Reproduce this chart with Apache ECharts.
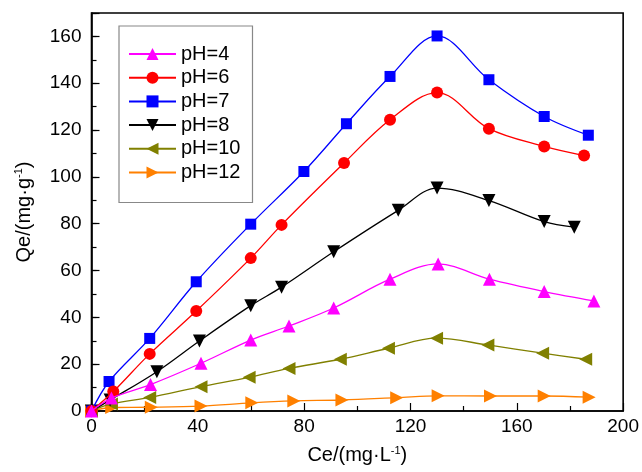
<!DOCTYPE html>
<html>
<head>
<meta charset="utf-8">
<title>Qe vs Ce at different pH</title>
<script src="https://cdn.jsdelivr.net/npm/echarts@6/dist/echarts.min.js"></script>
<style>
  html, body { margin: 0; padding: 0; background: #fff; }
  #chart { width: 642px; height: 472px; }
</style>
</head>
<body>
<div id="chart"></div>
<script>
// Adsorption capacity Qe (mg/g) against equilibrium concentration Ce (mg/L), one curve per pH
var seriesNames = ['pH=4', 'pH=6', 'pH=7', 'pH=8', 'pH=10', 'pH=12'];

var ph4 = [[0, 0], [7.5, 5.5], [22.2, 11.3], [41.2, 20.4], [59.9, 30.3], [74.3, 36.3], [91.1, 44.0], [112.3, 56.3], [130.4, 62.8], [149.7, 56.3], [170.3, 51.0], [189.0, 47.0]];
var ph6 = [[0, 0], [8.2, 8.3], [21.9, 24.4], [39.4, 42.7], [59.9, 65.3], [71.5, 79.5], [95.0, 105.9], [112.3, 124.4], [130.0, 136.0], [149.5, 120.6], [170.3, 113.0], [185.3, 109.1]];
var ph7 = [[0, 0], [6.6, 12.6], [21.9, 31.0], [39.4, 55.2], [59.9, 79.8], [79.9, 102.3], [95.9, 122.7], [112.3, 142.9], [130.0, 160.2], [149.5, 141.5], [170.3, 125.8], [186.9, 117.8]];
var ph8 = [[0, 0], [7.0, 4.7], [24.6, 16.8], [40.6, 29.9], [59.9, 45.0], [71.5, 52.9], [91.1, 68.0], [115.4, 85.7], [130.0, 95.2], [149.5, 89.9], [170.3, 80.9], [181.6, 78.5]];
var ph10 = [[0, 0], [7.5, 3.0], [21.9, 5.8], [41.2, 10.4], [59.3, 14.4], [74.3, 18.2], [93.6, 22.1], [111.7, 26.8], [129.8, 31.1], [149.1, 28.2], [169.7, 24.7], [185.9, 22.1]];
var ph12 = [[0, 0], [7.6, 1.5], [22.5, 1.6], [41.2, 2.1], [60.3, 3.5], [76.1, 4.3], [94.2, 4.7], [114.8, 5.7], [130.4, 6.5], [150.1, 6.4], [170.3, 6.4], [187.2, 5.9]];

var xTicks = [0, 40, 80, 120, 160, 200];
var yTicks = [0, 20, 40, 60, 80, 100, 120, 140, 160];

var FONT = 'Liberation Sans, Arial, sans-serif';

var styles = [
  { data: ph4,  color: '#FF00FF', symbol: 'triangle', rotate: 0,   size: 13 },
  { data: ph6,  color: '#FF0000', symbol: 'circle',   rotate: 0,   size: 12 },
  { data: ph7,  color: '#0000FF', symbol: 'rect',     rotate: 0,   size: 11 },
  { data: ph8,  color: '#000000', symbol: 'triangle', rotate: 180, size: 13 },
  { data: ph10, color: '#808000', symbol: 'triangle', rotate: 90,  size: 13 },
  { data: ph12, color: '#FF8000', symbol: 'triangle', rotate: -90, size: 13 }
];

var series = styles.map(function (s, i) {
  return {
    name: seriesNames[i],
    type: 'line',
    data: s.data,
    smooth: 0.35,
    symbol: s.symbol,
    symbolRotate: s.rotate,
    symbolSize: s.size,
    showAllSymbol: true,
    color: s.color,
    lineStyle: { color: s.color, width: 1.3 },
    itemStyle: { color: s.color },
    emphasis: { disabled: true },
    z: 10 - i
  };
});

var supStyle = { fontSize: 11, verticalAlign: 'top', padding: [0, 0, 10, 0], fontFamily: FONT, color: '#000' };

var chart = echarts.init(document.getElementById('chart'), null, { renderer: 'canvas' });

chart.setOption({
  animation: false,
  backgroundColor: '#ffffff',
  textStyle: { fontFamily: FONT },
  grid: {
    left: 91.5, right: 16, top: 13, bottom: 61,
    show: true, borderColor: '#000', borderWidth: 1.6, backgroundColor: 'transparent'
  },
  legend: {
    data: seriesNames,
    orient: 'vertical',
    left: 119, top: 26,
    padding: [18, 12, 20, 9],
    itemWidth: 47, itemHeight: 15,
    itemGap: 3.7,
    borderColor: '#888', borderWidth: 1.2,
    backgroundColor: '#fff',
    textStyle: { fontSize: 20, color: '#000', fontFamily: FONT, lineHeight: 20 },
    selectedMode: false
  },
  xAxis: [{
    type: 'value',
    min: xTicks[0], max: xTicks[xTicks.length - 1], interval: xTicks[1] - xTicks[0],
    name: 'Ce/(mg·L{sup|-1})',
    nameLocation: 'middle', nameGap: 34,
    nameTextStyle: { fontSize: 20, color: '#000', fontFamily: FONT, rich: { sup: supStyle } },
    axisLine: { lineStyle: { color: '#000', width: 1.6 } },
    axisTick: { inside: true, length: 8, lineStyle: { color: '#000', width: 1.2 } },
    minorTick: { show: true, splitNumber: 2, length: 5, lineStyle: { color: '#000', width: 1.2 } },
    axisLabel: { fontSize: 19, color: '#000', margin: 6, fontFamily: FONT },
    splitLine: { show: false }
  }],
  yAxis: [{
    type: 'value',
    min: yTicks[0], max: 170, interval: yTicks[1] - yTicks[0],
    name: 'Qe/(mg·g{sup|-1})',
    nameLocation: 'middle', nameGap: 57, nameRotate: 90,
    nameTextStyle: { fontSize: 20, color: '#000', fontFamily: FONT, rich: { sup: supStyle } },
    axisLine: { lineStyle: { color: '#000', width: 1.6 } },
    axisTick: { inside: true, length: 8, lineStyle: { color: '#000', width: 1.2 } },
    axisLabel: {
      fontSize: 19, color: '#000', margin: 10, fontFamily: FONT,
      formatter: function (v) { return yTicks.indexOf(v) >= 0 ? String(v) : ''; }
    },
    splitLine: { show: false }
  }, {
    // secondary axis used only for the minor ticks every 10 units
    type: 'value',
    position: 'left',
    min: 0, max: 170, interval: 10,
    axisLine: { show: false },
    axisTick: { inside: true, length: 5, lineStyle: { color: '#000', width: 1.2 } },
    axisLabel: { show: false },
    splitLine: { show: false }
  }],
  series: series
});
</script>
</body>
</html>
